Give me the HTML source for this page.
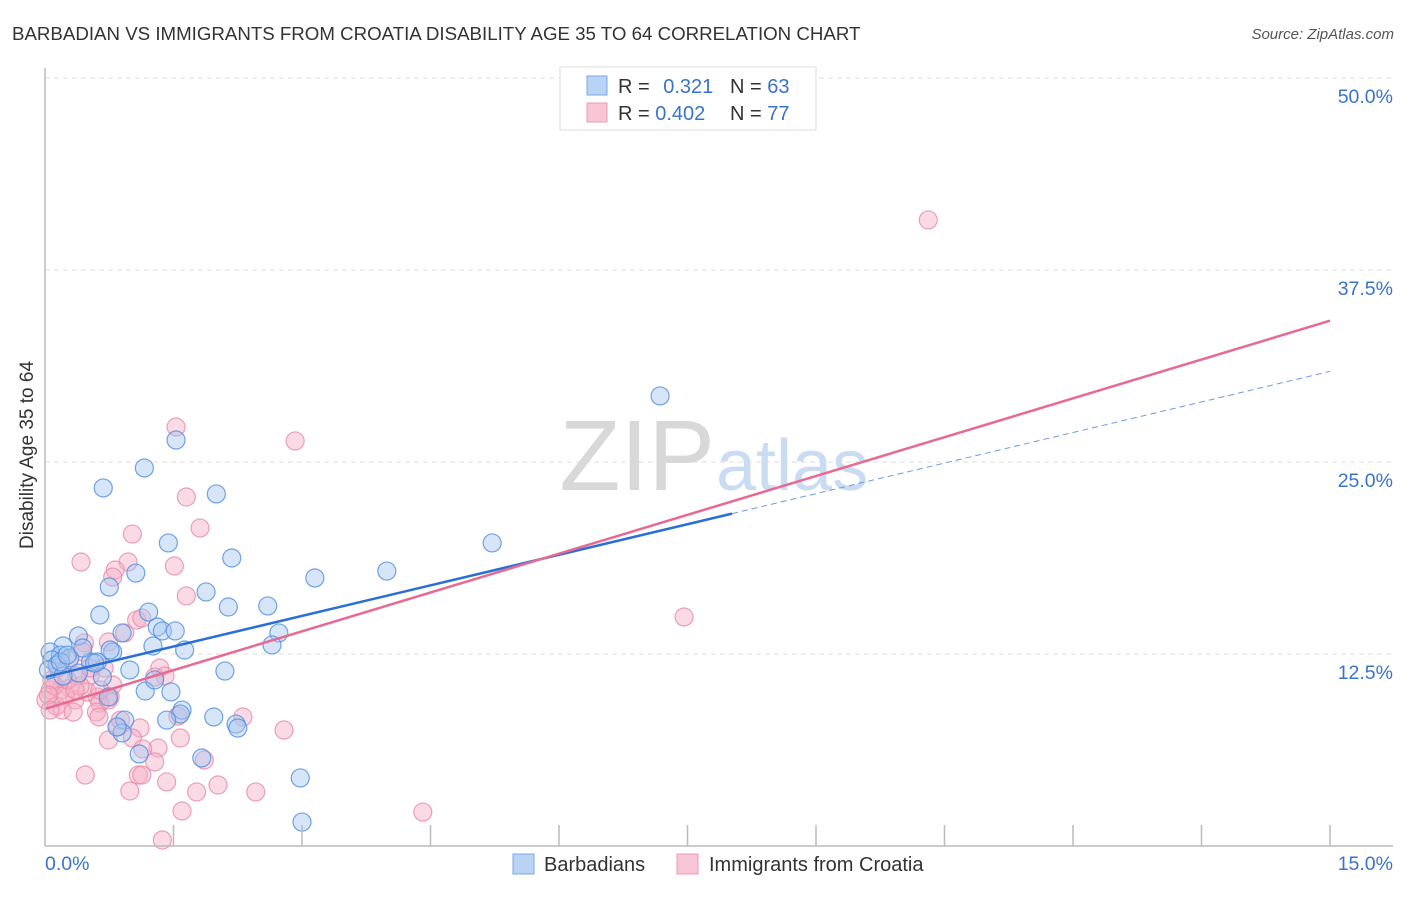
<!DOCTYPE html>
<html><head><meta charset="utf-8"><style>
body{margin:0;background:#fff;font-family:"Liberation Sans",sans-serif}
svg text{font-family:"Liberation Sans",sans-serif}
</style></head><body>
<svg width="1406" height="892" xmlns="http://www.w3.org/2000/svg">
<text x="12" y="40" font-size="18.7" fill="#333">BARBADIAN VS IMMIGRANTS FROM CROATIA DISABILITY AGE 35 TO 64 CORRELATION CHART</text>
<text x="1394" y="39" font-size="15" fill="#555" font-style="italic" text-anchor="end">Source: ZipAtlas.com</text>
<g id="grid"></g>
<text x="715" y="490" font-size="100" fill="#d8d8d8" font-family="Liberation Serif" text-anchor="end">ZIP</text>
<text x="716" y="490" font-size="72" fill="#c9dcf2">atlas</text>
<g id="pts"></g>
<g id="lines"></g>
<g id="axes"></g>
<text x="33" y="455" font-size="19" fill="#333" text-anchor="middle" transform="rotate(-90 33 455)">Disability Age 35 to 64</text>
<g>
<rect x="560" y="67" width="256" height="63" fill="#fff" stroke="#ddd"/>
<rect x="587" y="76" width="20" height="19" fill="#b9d3f5" stroke="#7aa7e6"/>
<rect x="587" y="103" width="20" height="19" fill="#f9c6d6" stroke="#ec9ab5"/>
<text x="618" y="93" font-size="20" fill="#333">R = <tspan fill="#3a73cc" dx="8">0.321</tspan></text>
<text x="730" y="93" font-size="20" fill="#333">N = <tspan fill="#3a73cc">63</tspan></text>
<text x="618" y="120" font-size="20" fill="#333">R = <tspan fill="#3a73cc">0.402</tspan></text>
<text x="730" y="120" font-size="20" fill="#333">N = <tspan fill="#3a73cc">77</tspan></text>
</g>
<g>
<rect x="513" y="854" width="21" height="20" fill="#b9d3f5" stroke="#7aa7e6"/>
<text x="544" y="871" font-size="20" fill="#333">Barbadians</text>
<rect x="677" y="854" width="21" height="20" fill="#f9c6d6" stroke="#ec9ab5"/>
<text x="709" y="871" font-size="20" fill="#333">Immigrants from Croatia</text>
</g>
</svg>
<script>
const xTicks=[0,1.5,3,4.5,6,7.5,9,10.5,12,13.5,15];
const yTicks=[12.5,25,37.5,50];
const yTickLabels=["12.5%","25.0%","37.5%","50.0%"];
const blueX=[7.18,1.53,1.16,0.68,2.00,5.22,1.44,2.18,3.99,3.15,1.06,0.75,1.88,2.60,2.14,0.64,1.21,1.31,1.37,1.52,0.90,2.73,0.39,0.21,2.65,1.26,1.63,0.79,0.06,0.18,0.08,0.29,0.53,0.61,0.99,2.10,0.14,0.39,0.04,0.21,0.67,1.47,1.17,1.28,0.74,1.60,1.58,1.97,0.93,1.42,2.23,2.25,0.90,0.84,1.83,1.10,2.98,3.00,0.18,0.26,0.44,0.58,0.76];
const blueY=[29.30,26.43,24.61,23.31,22.92,19.73,19.73,18.75,17.90,17.45,17.77,16.86,16.54,15.63,15.56,15.04,15.23,14.26,14.00,14.00,13.87,13.87,13.67,13.02,13.09,13.02,12.76,12.63,12.63,12.43,12.11,12.24,11.98,11.98,11.46,11.39,11.78,11.26,11.46,11.07,11.00,10.03,10.09,10.81,9.70,8.85,8.59,8.40,8.20,8.20,7.94,7.68,7.36,7.75,5.73,5.99,4.43,1.56,11.98,12.43,12.89,11.91,12.76];
const pinkX=[10.31,1.53,2.92,1.65,1.81,1.02,0.42,1.51,0.97,0.82,0.79,1.65,1.07,1.13,0.93,0.46,0.74,0.44,0.28,1.34,1.40,0.69,1.28,0.53,0.29,0.18,0.06,0.01,0.13,0.35,0.61,0.76,0.49,0.79,0.64,0.60,0.63,0.20,0.11,0.41,1.55,1.11,0.85,2.31,1.58,1.02,0.74,1.86,1.32,2.79,1.14,1.28,0.47,1.09,1.13,1.42,2.02,1.77,0.99,1.60,2.46,4.41,1.37,7.46,0.08,0.23,0.33,0.04,0.74,0.37,0.53,0.15,0.26,0.06,0.88,0.35,0.64];
const pinkY=[40.76,27.28,26.37,22.72,20.70,20.31,18.49,18.23,18.49,17.97,17.51,16.28,14.71,14.84,13.87,13.22,13.28,12.63,12.11,11.59,11.07,11.59,11.00,11.13,10.29,10.16,10.16,9.51,9.11,9.51,9.70,9.70,10.03,10.48,9.31,8.72,8.40,8.85,10.42,10.42,8.46,7.68,7.75,8.40,7.03,7.03,6.90,5.60,6.38,7.55,6.32,5.47,4.62,4.62,4.62,4.17,3.97,3.52,3.58,2.28,3.52,2.21,0.39,14.91,10.81,9.83,8.72,9.83,9.51,11.07,11.59,11.59,10.81,8.85,8.20,10.16,10.16];
const blueTrend=[0,11.0,8.02,15,30.9];
const pinkTrend=[0,8.92,15,34.2];
const X=v=>45+v*1285/15, Y=v=>846-v*192/12.5;
const NS="http://www.w3.org/2000/svg";
function mk(t,a,p){const e=document.createElementNS(NS,t);for(const k in a)e.setAttribute(k,a[k]);p.appendChild(e);return e;}
const grid=document.getElementById('grid'),axes=document.getElementById('axes'),pts=document.getElementById('pts'),lines=document.getElementById('lines');
yTicks.forEach((v,i)=>{
 const l=mk('line',{x1:45,x2:1393,y1:Y(v),y2:Y(v),stroke:'#ddd','stroke-dasharray':'5,4'},grid);
 
 
 const t=mk('text',{x:1393,y:Y(v)+25,'font-size':19.5,fill:'#3a73cc','text-anchor':'end'},axes);
 t.textContent=yTickLabels[i];
 
 
});
let a=mk('line',{x1:45,x2:45,y1:68,y2:846,stroke:'#bbb','stroke-width':1.5},axes);


a=mk('line',{x1:45,x2:1393,y1:846,y2:846,stroke:'#bbb','stroke-width':1.5},axes);


xTicks.slice(1).forEach(v=>{
 const t=mk('line',{x1:X(v),x2:X(v),y1:825,y2:846,stroke:'#bbb','stroke-width':1.5},axes);
 
 
});
let t=mk('text',{x:45,y:870,'font-size':19.5,fill:'#3a73cc'},axes);t.textContent='0.0%';


t=mk('text',{x:1393,y:870,'font-size':19.5,fill:'#3a73cc','text-anchor':'end'},axes);t.textContent='15.0%';


function dots(xs,ys,fill,stroke,name){xs.forEach((x,i)=>{
 const c=mk('circle',{cx:X(x),cy:Y(ys[i]),r:9,fill:fill,'fill-opacity':0.45,stroke:stroke,'stroke-opacity':0.8,'stroke-width':1.2},pts);
 
 
});}
dots(pinkX,pinkY,'#f5b0c5','#e88aa8','point-croatia');
dots(blueX,blueY,'#a6c6f0','#4f8de0','point-barbadian');
let l=mk('line',{x1:X(blueTrend[0]),y1:Y(blueTrend[1]),x2:X(blueTrend[2]),y2:Y(blueTrend[1]+(blueTrend[4]-blueTrend[1])*blueTrend[2]/blueTrend[3]),stroke:'#2a6fd6','stroke-width':2.5},lines);


l=mk('line',{x1:X(blueTrend[2]),y1:Y(blueTrend[1]+(blueTrend[4]-blueTrend[1])*blueTrend[2]/blueTrend[3]),x2:X(blueTrend[3]),y2:Y(blueTrend[4]),stroke:'#6f9be0','stroke-width':1,'stroke-dasharray':'6,4'},lines);


l=mk('line',{x1:X(pinkTrend[0]),y1:Y(pinkTrend[1]),x2:X(pinkTrend[2]),y2:Y(pinkTrend[3]),stroke:'#e86a93','stroke-width':2.5},lines);


</script>
</body></html>
